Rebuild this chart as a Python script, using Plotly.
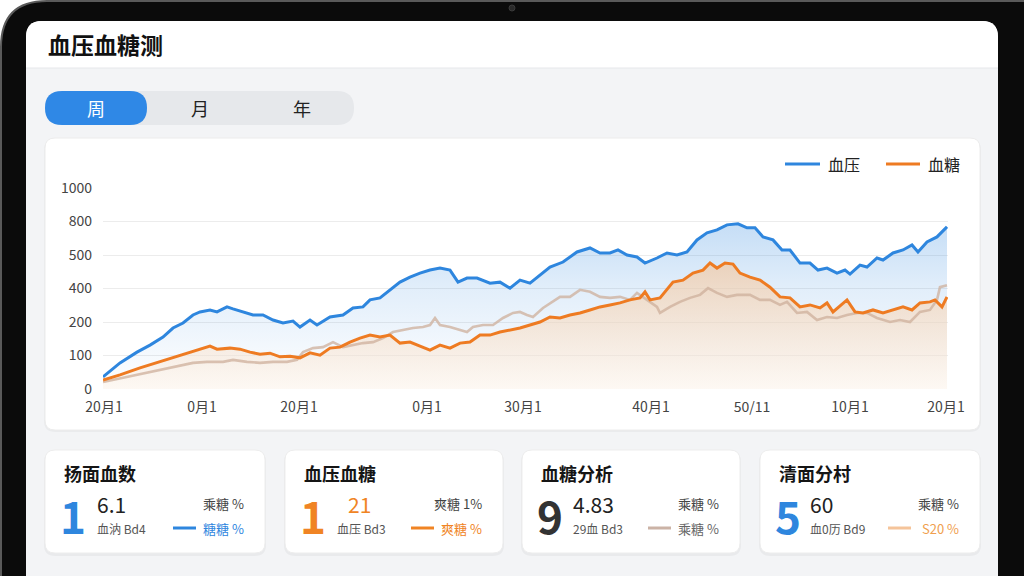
import plotly.graph_objects as go

# ---------------- data ----------------
x_ticks = [1, 99, 196, 324, 420, 548, 649, 747, 843]
x_labels = ["20月1", "0月1", "20月1", "0月1", "30月1", "40月1", "50/11", "10月1", "20月1"]
y_ticks = [0, 100, 200, 300, 400, 500, 600]
y_labels = ["0", "100", "200", "400", "500", "800", "1000"]

bp_x = [0, 17, 34, 47, 60, 70, 80, 90, 97, 107, 114, 124, 130, 140, 150, 160, 170, 180, 190, 197,
        207, 214, 227, 240, 250, 260, 267, 277, 287, 297, 307, 317, 327, 337, 347, 355, 364, 374, 387, 397,
        407, 417, 427, 437, 447, 460, 474, 487, 497, 507, 515, 524, 534, 542, 554, 564, 574, 584, 594, 604,
        614, 624, 635, 644, 652, 660, 670, 679, 687, 697, 707, 715, 724, 734, 742, 747, 757, 764, 774, 780,
        790, 800, 809, 815, 824, 834, 844]
bp_y = [36, 78, 110, 131, 155, 182, 197, 221, 230, 236, 230, 245, 239, 230, 221, 221, 206, 197, 203, 185,
        206, 191, 215, 221, 242, 245, 266, 272, 296, 319, 334, 346, 355, 361, 355, 319, 331, 331, 316, 319,
        301, 325, 316, 340, 364, 379, 409, 421, 406, 406, 415, 400, 394, 376, 391, 406, 400, 409, 445, 466,
        475, 490, 493, 481, 481, 454, 445, 415, 415, 376, 376, 355, 361, 346, 355, 343, 370, 364, 391, 385,
        406, 415, 430, 409, 439, 454, 484]

bg_x = [0, 17, 37, 57, 77, 94, 107, 114, 127, 137, 147, 157, 167, 177, 187, 197, 207, 217, 227, 237,
        247, 257, 267, 277, 287, 297, 307, 317, 327, 337, 347, 357, 367, 377, 387, 397, 407, 417, 427, 437,
        447, 457, 467, 477, 487, 497, 507, 517, 527, 537, 542, 547, 557, 564, 570, 580, 590, 600, 607, 614,
        622, 630, 637, 647, 657, 667, 677, 687, 697, 707, 717, 724, 730, 744, 752, 760, 770, 780, 790, 800,
        809, 817, 827, 832, 839, 844]
bg_y = [27, 42, 63, 81, 101, 116, 128, 119, 122, 119, 110, 104, 107, 96, 98, 93, 108, 101, 122, 125,
        140, 152, 161, 155, 161, 137, 140, 128, 116, 131, 122, 137, 140, 161, 161, 170, 176, 182, 191, 200,
        215, 212, 221, 227, 236, 245, 251, 257, 266, 272, 290, 266, 272, 296, 319, 325, 346, 355, 376, 361,
        376, 373, 346, 334, 325, 304, 275, 272, 245, 251, 242, 257, 230, 266, 230, 227, 236, 227, 236, 245,
        236, 257, 260, 266, 245, 275]

ref_x = [0, 24, 47, 70, 90, 104, 120, 130, 144, 157, 170, 184, 194, 200, 210, 220, 230, 240, 250, 260,
         270, 280, 290, 300, 310, 320, 327, 332, 337, 347, 357, 364, 370, 380, 390, 400, 410, 417, 424, 430,
         440, 450, 457, 467, 477, 487, 497, 507, 517, 527, 534, 544, 554, 557, 567, 577, 587, 597, 605, 614,
         624, 634, 647, 657, 667, 677, 684, 694, 704, 714, 724, 734, 744, 754, 764, 774, 787, 797, 807, 817,
         827, 834, 837, 844]
ref_y = [21, 36, 51, 66, 78, 81, 81, 87, 81, 78, 81, 81, 87, 110, 122, 125, 140, 125, 131, 137,
         140, 152, 170, 176, 182, 185, 191, 212, 191, 185, 176, 170, 185, 191, 191, 212, 227, 230, 221, 215,
         242, 260, 275, 275, 296, 290, 275, 272, 275, 266, 287, 266, 245, 227, 245, 260, 272, 281, 301, 287,
         275, 281, 281, 266, 266, 251, 260, 227, 230, 206, 215, 212, 221, 227, 227, 212, 200, 206, 200, 230,
         236, 266, 304, 310]

series_names = ["血压", "血糖"]

cards = [
    dict(x0=45, x1=265, title="扬面血数", big="1", big_color="#2e86de", val="6.1", val_color="#222222",
         val_dx=50, sub="血汭 Bd4", sub_dx=50, top="乘糖 %", bot="糖糖 %", bot_color="#2e86de",
         line_color="#2e86de"),
    dict(x0=285, x1=503, title="血压血糖", big="1", big_color="#f08424", val="21", val_color="#f08424",
         val_dx=61, sub="血压 Bd3", sub_dx=50, top="爽糖 1%", bot="爽糖 %", bot_color="#f08424",
         line_color="#f08424"),
    dict(x0=522, x1=740, title="血糖分析", big="9", big_color="#333333", val="4.83", val_color="#222222",
         val_dx=49, sub="29血 Bd3", sub_dx=49, top="乘糖 %", bot="乘糖 %", bot_color="#666666",
         line_color="#cbb3a6"),
    dict(x0=760, x1=980, title="清面分村", big="5", big_color="#2e86de", val="60", val_color="#222222",
         val_dx=48, sub="血0历 Bd9", sub_dx=48, top="乘糖 %", bot="S20 %", bot_color="#f0a04e",
         line_color="#f5c49a"),
]

FONT = "Noto Sans CJK SC, Noto Sans, sans-serif"
W, H = 1024, 576


def px(x):
    return x / W


def py(y):
    return 1 - y / H


def rrect(x0, y0, x1, y1, r, top_only=False):
    rb = 0 if top_only else r
    pts = []
    pts.append(f"M {px(x0 + r)},{py(y0)}")
    pts.append(f"L {px(x1 - r)},{py(y0)}")
    pts.append(f"Q {px(x1)},{py(y0)} {px(x1)},{py(y0 + r)}")
    pts.append(f"L {px(x1)},{py(y1 - rb)}")
    if rb:
        pts.append(f"Q {px(x1)},{py(y1)} {px(x1 - rb)},{py(y1)}")
    pts.append(f"L {px(x0 + rb)},{py(y1)}")
    if rb:
        pts.append(f"Q {px(x0)},{py(y1)} {px(x0)},{py(y1 - rb)}")
    pts.append(f"L {px(x0)},{py(y0 + r)}")
    pts.append(f"Q {px(x0)},{py(y0)} {px(x0 + r)},{py(y0)}")
    pts.append("Z")
    return " ".join(pts)


shapes = []
annotations = []


def add_rrect(x0, y0, x1, y1, r, fill, line=None, lw=0, top_only=False):
    shapes.append(dict(type="path", xref="paper", yref="paper", path=rrect(x0, y0, x1, y1, r, top_only),
                       fillcolor=fill, line=dict(color=line or fill, width=lw), layer="below"))


def add_line(x0, y0, x1, y1, color, width):
    shapes.append(dict(type="line", xref="paper", yref="paper", x0=px(x0), y0=py(y0), x1=px(x1), y1=py(y1),
                       line=dict(color=color, width=width), layer="below"))


def add_text(x, y, text, size, color, xanchor="left", weight="normal"):
    annotations.append(dict(x=px(x), y=py(y), xref="paper", yref="paper", text=text, showarrow=False,
                            xanchor=xanchor, yanchor="middle",
                            font=dict(family=FONT, size=size, color=color, weight=weight)))


# tablet body and screen
add_rrect(1, 1, 1080, 700, 46, "#0b0b0b", "#5a5a5a", 2)
add_rrect(26, 21, 998, 700, 16, "#f3f4f6")
add_rrect(26, 21, 998, 68, 16, "#ffffff", top_only=True)
add_line(26, 68, 998, 68, "#e6e7ea", 1)
shapes.append(dict(type="circle", xref="paper", yref="paper", x0=px(509), y0=py(5), x1=px(515), y1=py(11),
                   fillcolor="#2a2a2a", line=dict(color="#3a3a3a", width=1), layer="below"))
add_text(46, 44, "血压血糖测", 23, "#111111", weight="bold")

# segmented control
add_rrect(45, 91, 354, 125, 17, "#e6e8eb")
add_rrect(45, 91, 147, 125, 17, "#2f88e6")
add_text(96, 108, "周", 18, "#ffffff", xanchor="center")
add_text(200, 108, "月", 18, "#222222", xanchor="center")
add_text(302, 108, "年", 18, "#222222", xanchor="center")

# chart card
add_rrect(44, 139, 981, 432, 11, "rgba(0,0,0,0.035)")
add_rrect(45, 138, 980, 430, 10, "#ffffff", "#ececec", 1)

# legend (drawn as marks + text)
add_line(785, 164, 820, 164, "#2e86de", 3)
add_text(826, 164, series_names[0], 16, "#222222")
add_line(886, 164, 920, 164, "#ee7b22", 3)
add_text(926, 164, series_names[1], 16, "#222222")

# bottom cards
for c in cards:
    x0, x1 = c["x0"], c["x1"]
    add_rrect(x0 - 1, 451, x1 + 1, 556, 11, "rgba(0,0,0,0.04)")
    add_rrect(x0, 450, x1, 553, 10, "#ffffff", "#ededed", 1)
    add_text(x0 + 17, 473, c["title"], 18, "#151515", weight="bold")
    add_text(x0 + 28, 515, c["big"], 44, c["big_color"], xanchor="center", weight="bold")
    add_text(x0 + c["val_dx"], 504, c["val"], 21, c["val_color"])
    add_text(x0 + c["sub_dx"], 528, c["sub"], 12, "#555555")
    add_text(x1 - 19, 503, c["top"], 13, "#444444", xanchor="right")
    add_text(x1 - 19, 528, c["bot"], 13, c["bot_color"], xanchor="right")
    add_line(x1 - 92, 528, x1 - 69, 528, c["line_color"], 3)

fig = go.Figure()

# fills
fig.add_trace(go.Scatter(x=bp_x, y=bp_y, mode="lines", line=dict(width=0), fill="tozeroy",
                         fillgradient=dict(type="vertical", start=0, stop=500,
                                           colorscale=[[0, "rgba(46,134,222,0.0)"], [0.6, "rgba(46,134,222,0.14)"],
                                                       [1, "rgba(46,134,222,0.28)"]]),
                         showlegend=False, hoverinfo="skip"))
fig.add_trace(go.Scatter(x=bg_x, y=bg_y, mode="lines", line=dict(width=0), fill="tozeroy",
                         fillgradient=dict(type="vertical", start=0, stop=380,
                                           colorscale=[[0, "rgba(252,242,232,0.5)"], [0.5, "rgba(248,218,190,0.55)"],
                                                       [1, "rgba(245,198,155,0.65)"]]),
                         showlegend=False, hoverinfo="skip"))

# lines
fig.add_trace(go.Scatter(x=ref_x, y=ref_y, mode="lines", line=dict(color="rgba(205,175,155,0.75)", width=2.6),
                         showlegend=False, hoverinfo="skip"))
fig.add_trace(go.Scatter(x=bp_x, y=bp_y, mode="lines", name=series_names[0],
                         line=dict(color="#2e86de", width=3), showlegend=False))
fig.add_trace(go.Scatter(x=bg_x, y=bg_y, mode="lines", name=series_names[1],
                         line=dict(color="#ee7b22", width=3), showlegend=False))

fig.update_layout(
    template="none",
    width=W, height=H, autosize=False,
    margin=dict(l=0, r=0, t=0, b=0, pad=0, autoexpand=False),
    paper_bgcolor="#ffffff", plot_bgcolor="rgba(0,0,0,0)",
    font=dict(family=FONT, color="#333333"),
    shapes=shapes, annotations=annotations,
    showlegend=False,
    xaxis=dict(domain=[px(103), px(948)], range=[0, 845], showgrid=False, zeroline=False, showline=False,
               automargin=False, tickvals=x_ticks, ticktext=x_labels, ticks="", ticklabelstandoff=8,
               tickfont=dict(size=14, color="#444444")),
    yaxis=dict(domain=[py(389), py(188)], range=[0, 600], showgrid=True, gridcolor="#ececec", gridwidth=1,
               automargin=False, zeroline=False, showline=False, tickvals=y_ticks, ticktext=y_labels, ticks="",
               ticklabelstandoff=10, tickfont=dict(size=14, color="#444444")),
)

fig.write_html("out.html", config={"displayModeBar": False},
               post_script="document.body.style.margin='0';document.body.style.overflow='hidden';")
